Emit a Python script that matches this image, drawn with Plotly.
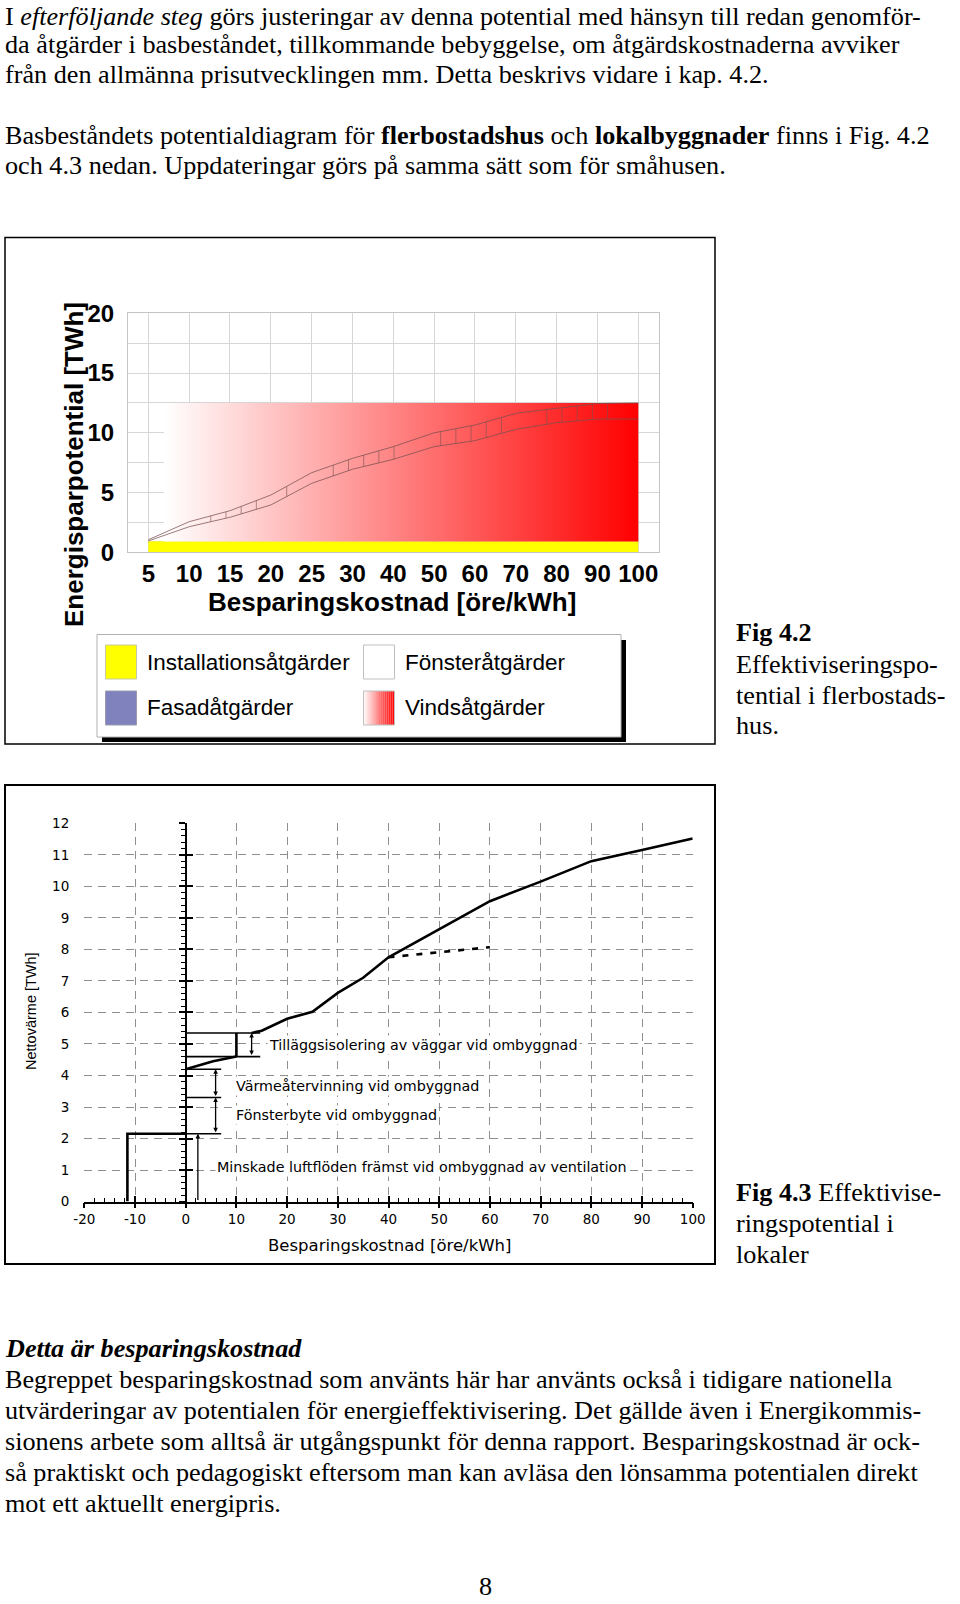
import plotly.graph_objects as go

W, H = 960, 1604

# ---------------- Fig 4.2 data (flerbostadshus) ----------------
cost_labels = ['5', '10', '15', '20', '25', '30', '40', '50', '60', '70', '80', '90', '100']
install_twh = [0.9, 0.9, 0.9, 0.9, 0.9, 0.9, 0.9, 0.9, 0.9, 0.9, 0.9, 0.9, 0.9]
fonster_upper = [1.05, 2.56, 3.48, 4.79, 6.66, 7.86, 8.84, 10.0, 10.65, 11.63, 12.05, 12.45, 12.5]
fonster_lower = [0.95, 2.14, 2.93, 3.96, 5.77, 6.95, 7.78, 8.84, 9.34, 10.29, 10.85, 11.15, 11.15]
vind_top = 12.5
vind_start_idx = 0.38

# ---------------- Fig 4.3 data (lokaler) ----------------
x2_ticks = [-20, -10, 0, 10, 20, 30, 40, 50, 60, 70, 80, 90, 100]
x2_labels = ['-20', '-10', '0', '10', '20', '30', '40', '50', '60', '70', '80', '90', '100']
main_cost = [13, 15, 20, 25, 30, 35, 40, 50, 60, 70, 80, 90, 100]
main_twh = [5.35, 5.42, 5.8, 6.02, 6.62, 7.1, 7.75, 8.65, 9.53, 10.15, 10.8, 11.15, 11.52]
dash_cost = [40, 50, 60]
dash_twh = [7.75, 7.92, 8.07]
recov_cost = [0, 5.4, 10]
recov_twh = [4.2, 4.45, 4.6]
vent_cost = -11.5
vent_twh = 2.15
fonster_twh = 3.3
varme_twh = 4.2
isol_cost = 10
isol_low = 4.6
isol_high = 5.35

SERIF = "Liberation Serif, Times New Roman, serif"
SANS = "Liberation Sans, Arial, sans-serif"
DV = "DejaVu Sans, Verdana, sans-serif"


def PX(x):
    return x / W


def PY(y):
    return 1 - y / H


fig = go.Figure()
idx = list(range(len(cost_labels)))

# ---- chart 1 traces ----
fig.add_trace(go.Scatter(x=idx, y=install_twh, mode='lines', fill='tozeroy',
                         fillcolor='#ffff00', line=dict(color='#e6e600', width=0.5),
                         xaxis='x', yaxis='y', hoverinfo='skip', showlegend=False))
x0, x1 = vind_start_idx, idx[-1]
fig.add_trace(go.Scatter(x=[x0, x1, x1, x0, x0],
                         y=[install_twh[0], install_twh[-1], vind_top, vind_top, install_twh[0]],
                         mode='lines', fill='toself', line=dict(width=0),
                         fillgradient=dict(type='horizontal',
                                           colorscale=[[0, '#ffffff'], [1, '#ff0000']]),
                         xaxis='x', yaxis='y', hoverinfo='skip', showlegend=False))
band_col = 'rgba(120,80,80,0.75)'
fig.add_trace(go.Scatter(x=idx, y=fonster_upper, mode='lines',
                         line=dict(color=band_col, width=1), xaxis='x', yaxis='y',
                         hoverinfo='skip', showlegend=False))
fig.add_trace(go.Scatter(x=idx, y=fonster_lower, mode='lines',
                         line=dict(color=band_col, width=1), xaxis='x', yaxis='y',
                         hoverinfo='skip', showlegend=False))


# hatch segments of the window band (pattern)
def interp(xv, xs, ys):
    for i in range(len(xs) - 1):
        if xs[i] <= xv <= xs[i + 1]:
            t = (xv - xs[i]) / (xs[i + 1] - xs[i])
            return ys[i] + t * (ys[i + 1] - ys[i])
    return ys[-1]


hatch_ranges = [(1.53, 2.7), (3.39, 3.4), (4.53, 6.05), (7.16, 8.65), (9.76, 11.3)]
hx, hy = [], []
for a, b in hatch_ranges:
    v = a
    while v <= b + 1e-9:
        hx += [v, v, None]
        hy += [interp(v, idx, fonster_lower), interp(v, idx, fonster_upper), None]
        v += 0.372
fig.add_trace(go.Scatter(x=hx, y=hy, mode='lines', line=dict(color=band_col, width=0.8),
                         xaxis='x', yaxis='y', hoverinfo='skip', showlegend=False))

# ---- chart 2 traces ----
bracket_end = 7
isol_end = 14.7
bx = [0, bracket_end, None, 0, bracket_end, None, 0, bracket_end, None,
      0, isol_end, None, 0, isol_end]
by = [vent_twh, vent_twh, None, fonster_twh, fonster_twh, None, varme_twh, varme_twh, None,
      isol_low, isol_low, None, isol_high, isol_high]
fig.add_trace(go.Scatter(x=bx, y=by, mode='lines', line=dict(color='black', width=1.6),
                         xaxis='x2', yaxis='y2', hoverinfo='skip', showlegend=False))
fig.add_trace(go.Scatter(x=[vent_cost, vent_cost, 0], y=[0, vent_twh, vent_twh], mode='lines',
                         line=dict(color='black', width=2.6),
                         xaxis='x2', yaxis='y3', hoverinfo='skip', showlegend=False))
fig.add_trace(go.Scatter(x=recov_cost + [None, isol_cost, isol_cost],
                         y=recov_twh + [None, isol_low, isol_high], mode='lines',
                         line=dict(color='black', width=2.6),
                         xaxis='x2', yaxis='y4', hoverinfo='skip', showlegend=False))
fig.add_trace(go.Scatter(x=main_cost, y=main_twh, mode='lines',
                         line=dict(color='black', width=2.6),
                         xaxis='x2', yaxis='y2', hoverinfo='skip', showlegend=False))
fig.add_trace(go.Scatter(x=dash_cost, y=dash_twh, mode='lines',
                         line=dict(color='black', width=2.6, dash='6px,8px'),
                         xaxis='x3', yaxis='y2', hoverinfo='skip', showlegend=False))

# ---- axes ----
c1x = [PX(127.9), PX(658.7)]
c1y = [PY(552.3), PY(313.3)]
c2x = [PX(84.3), PX(692.7)]
c2y = [PY(1201.6), PY(823.3)]
x2min, x2max = -20, 100
pos0 = c2x[0] + (0 - x2min) / (x2max - x2min) * (c2x[1] - c2x[0])

grid1 = '#d6d6d6'
grid2 = '#8f8f8f'
fig.update_layout(
    width=W, height=H, margin=dict(l=0, r=0, t=0, b=0, pad=0, autoexpand=False),
    paper_bgcolor='white', plot_bgcolor='rgba(0,0,0,0)', showlegend=False,
    xaxis=dict(domain=c1x, range=[-0.5, 12.5], anchor='y', tickmode='array',
               tickvals=idx, ticktext=cost_labels, showgrid=True, gridcolor=grid1,
               showline=True, mirror=True, linecolor='#c4c4c4', linewidth=1,
               zeroline=False, ticks='', ticklabelstandoff=0,
               tickfont=dict(family=SANS, size=24, color='black', weight='bold'),
               fixedrange=True),
    yaxis=dict(domain=c1y, range=[0, 20], anchor='x', tickmode='array',
               tickvals=[0, 2.5, 5, 7.5, 10, 12.5, 15, 17.5, 20],
               ticktext=['0', '', '5', '', '10', '', '15', '', '20'],
               showgrid=True, gridcolor=grid1, showline=True, mirror=True,
               linecolor='#c4c4c4', linewidth=1, zeroline=False, ticks='',
               ticklabelstandoff=8,
               tickfont=dict(family=SANS, size=24, color='black', weight='bold'),
               fixedrange=True),
    xaxis2=dict(domain=c2x, range=[x2min, x2max], anchor='y2', tickmode='array',
                tickvals=x2_ticks, ticktext=x2_labels,
                showgrid=True, gridcolor=grid2, griddash='8px,6px', gridwidth=1,
                showline=True, linecolor='black', linewidth=2, zeroline=False,
                ticks='inside', ticklen=6, tickwidth=1.5, tickcolor='black',
                minor=dict(dtick=2, ticks='inside', ticklen=4, tickwidth=1,
                           tickcolor='black', showgrid=False),
                ticklabelstandoff=4,
                tickfont=dict(family=DV, size=13.5, color='black'), fixedrange=True),
    xaxis3=dict(overlaying='x2', anchor='y2', range=[x2min, x2max], tickmode='array',
                tickvals=x2_ticks, showgrid=False, showline=False, zeroline=False,
                ticks='outside', ticklen=5, tickwidth=1.5, tickcolor='black',
                showticklabels=False, fixedrange=True),
    yaxis2=dict(domain=c2y, range=[0, 12], anchor='x2', dtick=1, showgrid=True,
                gridcolor=grid2, griddash='8px,6px', gridwidth=1, showline=False,
                zeroline=False, ticks='', ticklabelstandoff=14,
                tickfont=dict(family=DV, size=13.5, color='black'), fixedrange=True),
    yaxis3=dict(overlaying='y2', anchor='free', position=pos0, range=[0, 12], dtick=1,
                showgrid=False, showline=True, linecolor='black', linewidth=2,
                zeroline=False, ticks='outside', ticklen=6, tickwidth=1.5,
                tickcolor='black', showticklabels=False,
                minor=dict(dtick=0.2, ticks='outside', ticklen=4, tickwidth=1,
                           tickcolor='black', showgrid=False), fixedrange=True),
    yaxis4=dict(overlaying='y2', anchor='free', position=pos0, range=[0, 12], dtick=1,
                showgrid=False, showline=False, zeroline=False, ticks='inside',
                ticklen=6, tickwidth=1.5, tickcolor='black', showticklabels=False,
                fixedrange=True),
)

shapes = []
# chart frames
shapes.append(dict(type='rect', xref='paper', yref='paper', x0=PX(5), x1=PX(715),
                   y0=PY(744), y1=PY(237.5), line=dict(color='black', width=1.5),
                   layer='below'))
shapes.append(dict(type='rect', xref='paper', yref='paper', x0=PX(5), x1=PX(715),
                   y0=PY(1264), y1=PY(785), line=dict(color='black', width=2),
                   layer='below'))
# legend box with shadow
shapes.append(dict(type='rect', xref='paper', yref='paper', x0=PX(102), x1=PX(626),
                   y0=PY(742), y1=PY(640), fillcolor='black', line=dict(width=0)))
shapes.append(dict(type='rect', xref='paper', yref='paper', x0=PX(97), x1=PX(621),
                   y0=PY(737), y1=PY(634.5), fillcolor='white',
                   line=dict(color='#b0b0b0', width=1)))
# swatches
sw = [(105.5, 136.5, 645, 679), (363.5, 394.5, 645, 679),
      (105.5, 136.5, 691, 725), (363.5, 394.5, 691, 725)]
shapes.append(dict(type='rect', xref='paper', yref='paper', x0=PX(sw[0][0]), x1=PX(sw[0][1]),
                   y0=PY(sw[0][3]), y1=PY(sw[0][2]), fillcolor='#ffff00',
                   line=dict(color='#c8c8a0', width=1)))
shapes.append(dict(type='rect', xref='paper', yref='paper', x0=PX(sw[1][0]), x1=PX(sw[1][1]),
                   y0=PY(sw[1][3]), y1=PY(sw[1][2]), fillcolor='white',
                   line=dict(color='#c0c0c0', width=1)))
shapes.append(dict(type='rect', xref='paper', yref='paper', x0=PX(sw[2][0]), x1=PX(sw[2][1]),
                   y0=PY(sw[2][3]), y1=PY(sw[2][2]), fillcolor='#7f82bd',
                   line=dict(color='#9a9ab0', width=1)))
# gradient swatch
n = 16
gx0, gx1, gy0, gy1 = sw[3]
for i in range(n):
    t = (i + 0.5) / n
    g = int(round(255 * (1 - t)))
    shapes.append(dict(type='rect', xref='paper', yref='paper',
                       x0=PX(gx0 + (gx1 - gx0) * i / n), x1=PX(gx0 + (gx1 - gx0) * (i + 1) / n),
                       y0=PY(gy1), y1=PY(gy0), fillcolor=f'rgb(255,{g},{g})',
                       line=dict(width=0)))
shapes.append(dict(type='rect', xref='paper', yref='paper', x0=PX(gx0), x1=PX(gx1),
                   y0=PY(gy1), y1=PY(gy0), line=dict(color='#c0c0c0', width=1)))
fig.update_layout(shapes=shapes)

ann = []


def text(x, y, s, size, family=SERIF, xanchor='left', angle=0, weight=None, color='black'):
    f = dict(family=family, size=size, color=color)
    if weight:
        f['weight'] = weight
    ann.append(dict(x=PX(x), y=PY(y), xref='paper', yref='paper', text=s, showarrow=False,
                    xanchor=xanchor, yanchor='middle', textangle=angle, font=f,
                    borderpad=0))


# page text
fs = 26.2
page_top = [
    (16.5, "I <i>efterföljande steg</i> görs justeringar av denna potential med hänsyn till redan genomför-"),
    (44.5, "da åtgärder i basbeståndet, tillkommande bebyggelse, om åtgärdskostnaderna avviker"),
    (74.5, "från den allmänna prisutvecklingen mm. Detta beskrivs vidare i kap. 4.2."),
    (135, "Basbeståndets potentialdiagram för <b>flerbostadshus</b> och <b>lokalbyggnader</b> finns i Fig. 4.2"),
    (166, "och 4.3 nedan. Uppdateringar görs på samma sätt som för småhusen."),
]
for y, s in page_top:
    text(4, y, s, fs)

captions = [
    (632.5, "<b>Fig 4.2</b>"), (664, "Effektiviseringspo-"), (695, "tential i flerbostads-"),
    (726, "hus."),
    (1192, "<b>Fig 4.3</b> Effektivise-"), (1223, "ringspotential i"), (1254, "lokaler"),
]
for y, s in captions:
    text(735, y, s, fs)

page_bottom = [
    (1348, "<b><i>Detta är besparingskostnad</i></b>"),
    (1379, "Begreppet besparingskostnad som använts här har använts också i tidigare nationella"),
    (1410, "utvärderingar av potentialen för energieffektivisering. Det gällde även i Energikommis-"),
    (1441, "sionens arbete som alltså är utgångspunkt för denna rapport. Besparingskostnad är ock-"),
    (1472, "så praktiskt och pedagogiskt eftersom man kan avläsa den lönsamma potentialen direkt"),
    (1503, "mot ett aktuellt energipris."),
]
for y, s in page_bottom:
    text(4, y, s, fs)
text(485, 1586, "8", fs, xanchor='center')

# chart 1 titles and legend texts
text(74, 465, "Energisparpotential [TWh]", 26, family=SANS, xanchor='center', angle=-90,
     weight='bold')
text(392, 601.5, "Besparingskostnad [öre/kWh]", 26, family=SANS, xanchor='center', weight='bold')
text(146, 662, "Installationsåtgärder", 22.5, family=SANS)
text(404, 662, "Fönsteråtgärder", 22.5, family=SANS)
text(146, 708, "Fasadåtgärder", 22.5, family=SANS)
text(404, 708, "Vindsåtgärder", 22.5, family=SANS)

# chart 2 titles
text(31, 1011, "Nettovärme [TWh]", 14.5, family=SANS, xanchor='center', angle=-90)
text(389, 1245, "Besparingskostnad [öre/kWh]", 16.5, family=DV, xanchor='center')

# chart 2 labels (data coords)
labels2 = [
    (16.0, 4.97, "Tilläggsisolering av väggar vid ombyggnad"),
    (9.6, 3.68, "Värmeåtervinning vid ombyggnad"),
    (9.6, 2.76, "Fönsterbyte vid ombyggnad"),
    (5.8, 1.09, "Minskade luftflöden främst vid ombyggnad av ventilation"),
]
for x, y, s in labels2:
    ann.append(dict(x=x, y=y, xref='x2', yref='y2', text=s, showarrow=False,
                    xanchor='left', yanchor='middle', bgcolor='white', borderpad=1,
                    font=dict(family=DV, size=14.3, color='black')))

# arrows
arrows = [
    (2.4, 0, vent_twh, 'end'),
    (5.9, vent_twh, fonster_twh, 'end+start'),
    (5.9, fonster_twh, varme_twh, 'end+start'),
    (13.0, isol_low, isol_high, 'end+start'),
]
for x, ya, yb, side in arrows:
    ann.append(dict(x=x, y=yb, ax=x, ay=ya, xref='x2', yref='y2', axref='x2', ayref='y2',
                    showarrow=True, arrowhead=2, arrowsize=0.7, arrowwidth=1.3,
                    arrowcolor='black', arrowside=side, text=''))

fig.update_layout(annotations=ann)

fig.write_html("out.html", config={'displayModeBar': False},
               post_script="document.body.style.margin='0';document.body.style.overflow='hidden';")
